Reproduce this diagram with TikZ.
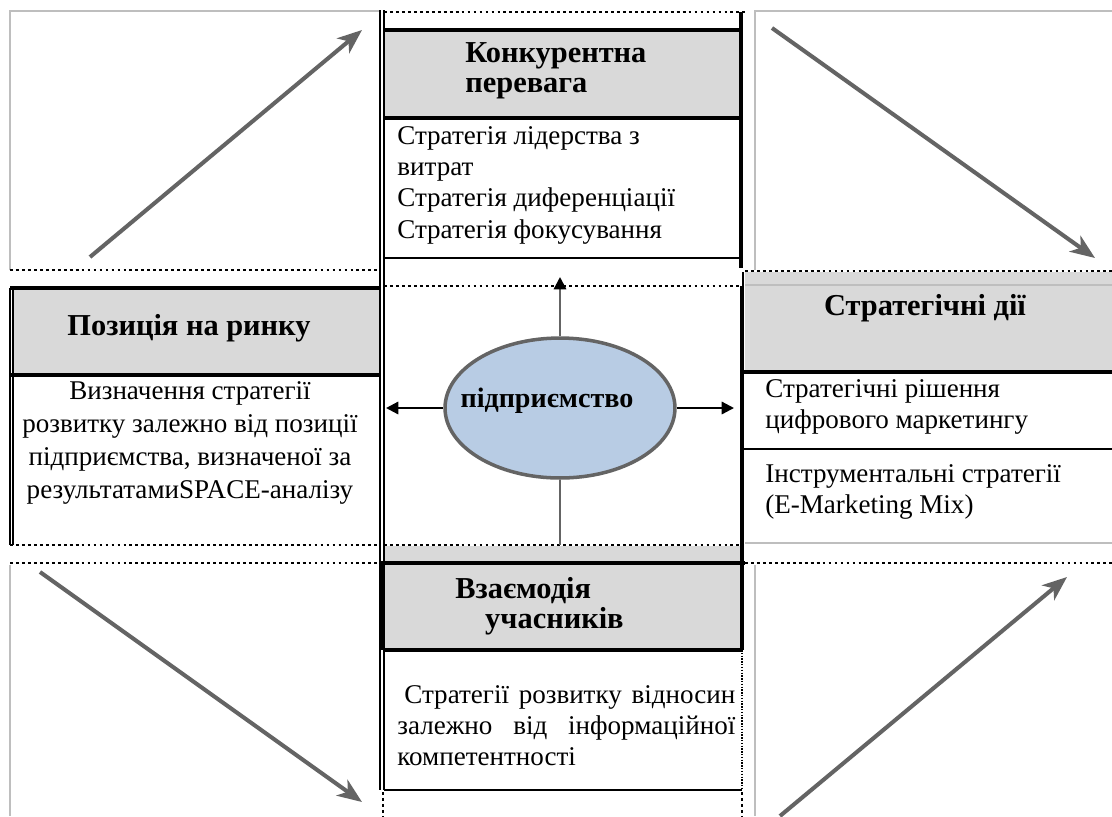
\documentclass[tikz,border=0pt]{standalone}
\usepackage{fontspec}
\setmainfont{Liberation Serif}
\usetikzlibrary{shapes.geometric,arrows.meta}
\definecolor{hdr}{RGB}{217,217,217}
\definecolor{ellfill}{RGB}{184,204,228}
\definecolor{arrgray}{RGB}{100,100,100}
\definecolor{framegray}{RGB}{190,190,190}
\begin{document}
\begin{tikzpicture}[x=0.02cm,y=-0.02cm,
  thinframe/.style={draw=framegray,line width=0.7pt},
  dotline/.style={line width=1.6pt,dash pattern=on 1.6pt off 1.8pt},
  thinsep/.style={line width=0.8pt},
  thickline/.style={line width=2.6pt},
  bigarrow/.style={draw=arrgray,line width=2.3pt,-{Stealth[length=14pt,width=11pt,inset=4pt]}},
  hdrtext/.style={font=\fontsize{17.3}{17.2}\selectfont\bfseries,inner sep=0pt},
  bodytext/.style={font=\fontsize{15.4}{17.8}\selectfont,inner sep=0pt},
  entell/.style={ellipse,draw=arrgray,line width=2pt,fill=ellfill,minimum width=4.6cm,minimum height=2.8cm},
  smallarrow/.style={line width=1.3pt,-{Triangle[length=7pt,width=7pt,color=black]}}
]
\useasboundingbox (0,0) rectangle (1112,816);
\fill[white] (0,0) rectangle (1112,816);

% ---- corner frames ----
\draw[thinframe] (10,270) -- (10,11) -- (380,11);
\draw[thinframe] (755,270) -- (755,11) -- (1112,11);
\draw[thinframe] (10,565) -- (10,816);
\draw[thinframe] (755,565) -- (755,816);
\draw[thinframe] (745,543) -- (1112,543);

% ---- header fills ----
\fill[hdr] (384,30) rectangle (740,118);
\fill[hdr] (12,288) rectangle (380,375);
\fill[hdr] (745,272) rectangle (1112,372);
\fill[hdr] (384,546) rectangle (742,650);
\draw[thinframe] (745,285) -- (1112,285);

% ---- center column ----
\draw[line width=0.7pt] (380,10) -- (380,790);
\draw[line width=0.7pt] (384,10) -- (384,790);
\draw[dotline] (384,12) -- (745,12);
\draw[thickline] (384,30) -- (742,30);
\draw[thickline] (384,118) -- (742,118);
\draw[thickline] (741,12) -- (741,268);
\draw[thinsep] (384,258) -- (741,258);
\draw[dotline] (384,286) -- (740,286);
\draw[line width=1.2pt] (741,286) -- (741,545);
\draw[dotline] (384,545) -- (740,545);

% ---- horizontal dotted rows ----
\draw[dotline] (10,270) -- (380,270);
\draw[dotline] (745,271) -- (1112,271);
\draw[dotline] (10,545) -- (380,545);
\draw[dotline] (10,563) -- (380,563);
\draw[dotline] (745,563) -- (1112,563);

% ---- left block ----
\draw[thickline] (10,288) -- (380,288);
\draw[thickline] (10,375) -- (380,375);
\draw[line width=0.7pt] (10,288) -- (10,545);
\draw[line width=0.7pt] (13,288) -- (13,545);

% ---- right block ----
\draw[line width=1.3pt] (743,272) -- (743,545);
\draw[thickline] (743,372) -- (1112,372);
\draw[line width=1.3pt] (743,449) -- (1112,449);

% ---- bottom block ----
\draw[thickline] (380,563) -- (745,563);
\draw[thickline] (383,650) -- (743,650);
\draw[thickline] (383,563) -- (383,650);
\draw[thickline] (742,545) -- (742,650);
\draw[line width=0.8pt,dash pattern=on 0.8pt off 0.8pt] (742,650) -- (742,790);
\draw[thinsep] (384,790) -- (742,790);
\draw[dotline] (383,792) -- (383,816);
\draw[dotline] (742,792) -- (742,816);

% ---- texts ----
\node[hdrtext,anchor=west,align=left] (hK) at (465,71) {Конкурентна\\перевага};
\node[bodytext,anchor=north west,align=left] (bK) at (397,126)
  {Стратегія лідерства з\\витрат\\Стратегія диференціації\\Стратегія фокусування};

\node[hdrtext] (hP) at (189,328) {Позиція на ринку};
\node[bodytext,align=center,font=\fontsize{15.4}{18.7}\selectfont] (bP) at (190,443)
  {Визначення стратегії\\розвитку залежно від позиції\\підприємства, визначеної за\\результатамиSPACE-аналізу};

\node[hdrtext] (hS) at (925,308) {Стратегічні дії};
\node[bodytext,anchor=west,align=left] (bS1) at (765,407) {Стратегічні рішення\\цифрового маркетингу};
\node[bodytext,anchor=west,align=left] (bS2) at (765,492) {Інструментальні стратегії\\(E-Marketing Mix)};

\node[hdrtext,anchor=west,align=left] (hV) at (455,606) {Взаємодія\\\hspace*{17pt}учасників};
\node[bodytext,anchor=north west,align=left,text width=6.76cm] (bV) at (397,685)
  {\makebox[6.76cm][l]{\hspace*{4pt}Стратегії\hfill розвитку\hfill відносин}\\
   \makebox[6.76cm][l]{залежно\hfill від\hfill інформаційної}\\
   компетентності};

% ---- central ellipse ----
\node[entell] (ent) at (560,408) {};
\node[hdrtext,font=\fontsize{16}{17}\selectfont\bfseries] (entlbl) at (547,401) {підприємство};
\coordinate (upEnd) at (560,277);
\coordinate (leftEnd) at (386,408);
\coordinate (rightEnd) at (734,408);
\coordinate (downEnd) at (560,545);
\draw[smallarrow,draw=arrgray] (ent.north) -- (upEnd);
\draw[smallarrow] (ent.west) -- (leftEnd);
\draw[smallarrow] (ent.east) -- (rightEnd);
\draw[draw=arrgray,line width=1.3pt] (ent.south) -- (downEnd);

% ---- corner arrows ----
\coordinate (tlS) at (90,257);   \coordinate (tlE) at (362,30);
\coordinate (trS) at (772,28);   \coordinate (trE) at (1095,258);
\coordinate (blS) at (40,572);   \coordinate (blE) at (362,802);
\coordinate (brS) at (780,816);  \coordinate (brE) at (1067,577);
\draw[bigarrow] (tlS) -- (tlE);
\draw[bigarrow] (trS) -- (trE);
\draw[bigarrow] (blS) -- (blE);
\draw[bigarrow] (brS) -- (brE);
\end{tikzpicture}
\end{document}
